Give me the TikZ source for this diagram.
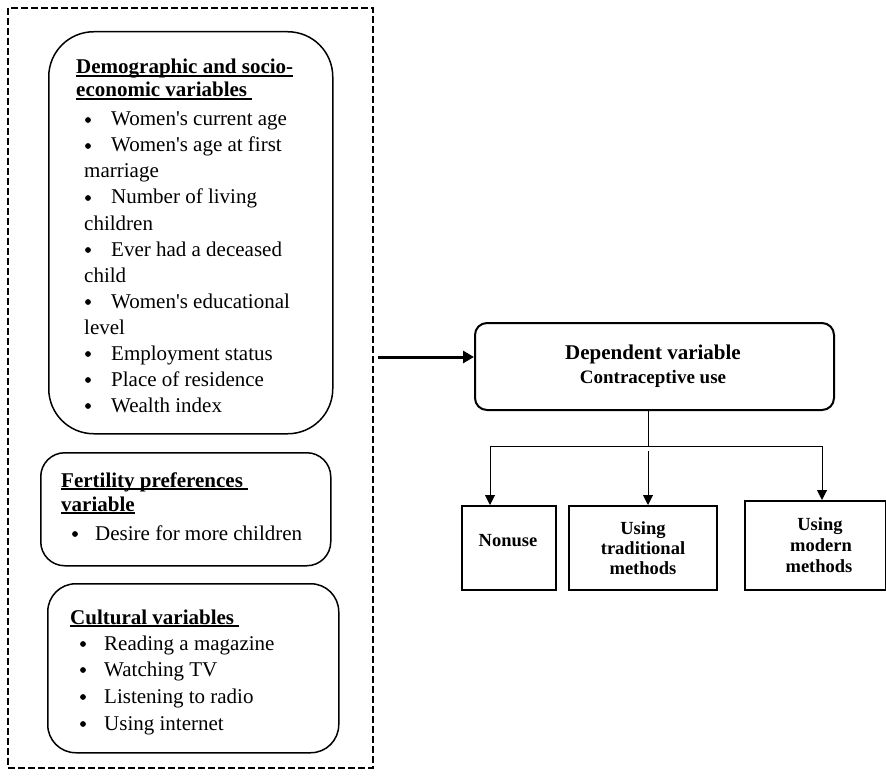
\documentclass[tikz,border=0pt]{standalone}
\usepackage{fontspec}
\setmainfont{Liberation Serif}
\usetikzlibrary{arrows.meta}
\newcommand{\myul}[1]{\setbox0=\hbox{#1}\rlap{\rule[-3pt]{\wd0}{1.6pt}}\box0}
\newcommand{\apos}{\textquotesingle}
\begin{document}
\begin{tikzpicture}[x=1pt,y=-1pt,
  txt/.style={anchor=base west, inner sep=0pt, font=\fontsize{21}{26}\selectfont},
  hdr/.style={anchor=base west, inner sep=0pt, font=\fontsize{21}{26}\selectfont\bfseries},
  btxt/.style={anchor=base, inner sep=0pt, font=\fontsize{18.5}{21}\selectfont\bfseries},
  box/.style={draw, line width=1.5pt, inner sep=0pt, anchor=north west},
  conn/.style={line width=1pt},
  tip/.style={-{Triangle[width=10pt,length=10pt]}},
  bul/.style={fill=black}]
\useasboundingbox (0,0) rectangle (886,778);
% outer dashed frame
\draw[line width=2pt, dash pattern=on 7pt off 3pt] (8,8) rectangle (373,768);
% left boxes
\node[box, rounded corners=45pt, minimum width=284pt, minimum height=402pt] (demo) at (48,31) {};
\node[box, rounded corners=24pt, minimum width=290pt, minimum height=113pt] (fert) at (40,452) {};
\node[box, rounded corners=28pt, minimum width=291pt, minimum height=169pt] (cult) at (47,583) {};
% demographic texts
\node[hdr] (dh1) at (76,74) {\myul{Demographic and socio-}};
\node[hdr] (dh2) at (76,97) {\myul{economic variables\ }};
\node[txt] (d1) at (111,126) {Women\apos s current age};
\node[txt] (d2) at (111,152) {Women\apos s age at first};
\node[txt] (d2b) at (84,178) {marriage};
\node[txt] (d3) at (111,204) {Number of living};
\node[txt] (d3b) at (84,230) {children};
\node[txt] (d4) at (111,256) {Ever had a deceased};
\node[txt] (d4b) at (84,282) {child};
\node[txt] (d5) at (111,308) {Women\apos s educational};
\node[txt] (d5b) at (84,334) {level};
\node[txt] (d6) at (111,360) {Employment status};
\node[txt] (d7) at (111,386) {Place of residence};
\node[txt] (d8) at (111,412) {Wealth index};
\foreach \b in {126,152,204,256,308,360,386,412}{\fill[bul] (88,\b-6) circle[radius=2.9pt];}
% fertility texts
\node[hdr] (fh1) at (61,487) {\myul{Fertility preferences\ }};
\node[hdr] (fh2) at (61,511) {\myul{variable}};
\node[txt] (f1) at (95,540) {Desire for more children};
\fill[bul] (75,534) circle[radius=2.9pt];
% cultural texts
\node[hdr] (ch) at (70,624) {\myul{Cultural variables\ }};
\node[txt] (c1) at (104,650) {Reading a magazine};
\node[txt] (c2) at (104,676) {Watching TV};
\node[txt] (c3) at (104,703) {Listening to radio};
\node[txt] (c4) at (104,730) {Using internet};
\foreach \b in {650,676,703,730}{\fill[bul] (83,\b-6) circle[radius=2.9pt];}
% dependent
\node[box, line width=2pt, rounded corners=12pt, minimum width=359pt, minimum height=87pt] (dep) at (474,322) {};
\node[anchor=base, inner sep=0pt, font=\fontsize{21}{26}\selectfont\bfseries] (dept1) at (653,359) {Dependent variable};
\node[anchor=base, inner sep=0pt, font=\fontsize{19}{23}\selectfont\bfseries] (dept2) at (653,383) {Contraceptive use};
% outcome boxes
\node[box, minimum width=94pt, minimum height=84pt] (nonuse) at (461,505) {};
\node[box, minimum width=148pt, minimum height=84pt] (trad) at (568,505) {};
\node[box, minimum width=141pt, minimum height=89pt] (modern) at (744,500) {};
\node[btxt] (n1) at (508,546) {Nonuse};
\node[btxt] (t1) at (643,534) {Using};
\node[btxt] (t2) at (643,554) {traditional};
\node[btxt] (t3) at (643,574) {methods};
\node[btxt] (m1) at (820,530) {Using};
\node[btxt] (m2) at (821,551) {modern};
\node[btxt] (m3) at (819,572) {methods};
% connectors
\coordinate (astart) at (378,357);
\draw[line width=3pt, -{Triangle[width=12pt,length=11pt]}] (astart) -- (astart -| dep.west);
\coordinate (jL) at (490,446);
\coordinate (jM) at (648,446);
\coordinate (jR) at (822,446);
\coordinate (mstart) at (648,451);
\draw[conn] (dep.south -| jM) -- (jM);
\draw[conn] (jL) -- (jR);
\draw[conn, tip] (jL) -- (jL |- nonuse.north);
\draw[conn, tip] (mstart) -- (mstart |- trad.north);
\draw[conn, tip] (jR) -- (jR |- modern.north);
\end{tikzpicture}
\end{document}
